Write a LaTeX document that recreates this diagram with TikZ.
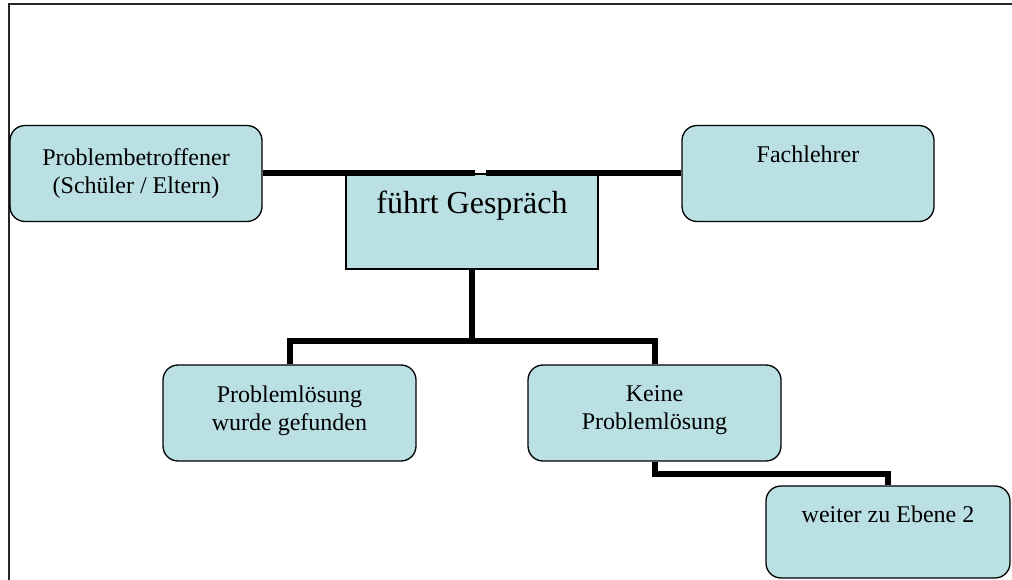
\documentclass[tikz,border=0pt]{standalone}
\usepackage{fontspec}
\setmainfont{Liberation Serif}
\usetikzlibrary{positioning}
\definecolor{boxfill}{RGB}{186,224,228}

\begin{document}
\begin{tikzpicture}[x=1pt,y=-1pt,
    box/.style={draw=black,line width=1.3pt,fill=boxfill,rounded corners=15pt,
      minimum width=252pt,minimum height=96pt,inner sep=0pt,
      font=\fontsize{24}{28}\selectfont,align=center},
    toptext/.style={anchor=north,inner sep=0pt,align=center,yshift=#1,
      font=\fontsize{24}{28}\selectfont},
    link/.style={line width=6pt}]
    \useasboundingbox (0,0) rectangle (1012,580);
    \draw[line width=2pt,black!85] (1014,4.5) -- (9,4.5) -- (9,582);

    % upper level
    \node[box] (prob) at (136,173.5) {Problembetroffener\\(Schüler / Eltern)};
    \node[box,label={[toptext=-20.6pt]north:Fachlehrer}] (fach) at (808,173.5) {};
    \node[box,rounded corners=0pt,minimum height=95pt,
      label={[toptext=-17pt,font=\fontsize{32}{36}\selectfont]north:führt Gespräch}] (talk) at (472,221.5) {};

    % lower level
    \node[box,minimum width=253pt,label={[toptext=-21pt]north:Problemlösung\\wurde gefunden}] (found) at (289.5,413) {};
    \node[box,minimum width=253pt,label={[toptext=-21pt]north:Keine\\Problemlösung}] (keine) at (654.5,413) {};
    \node[box,minimum width=244pt,minimum height=92pt,label={[toptext=-20pt]north:weiter zu Ebene 2}] (next) at (888,532) {};

    \coordinate (gapL) at (475,173.5);
    \coordinate (gapR) at (486,173.5);
    \coordinate (fork) at (472,341);
    \draw[link] (prob.east) -- (gapL);
    \draw[link] (fach.west) -- (gapR);
    \draw[link] (talk.south) -- (fork);
    \draw[link] (found.north) |- (fork) -| (keine.north);
    \draw[link] (keine.south) -- ++(0,12) -| (next.north);
\end{tikzpicture}
\end{document}
